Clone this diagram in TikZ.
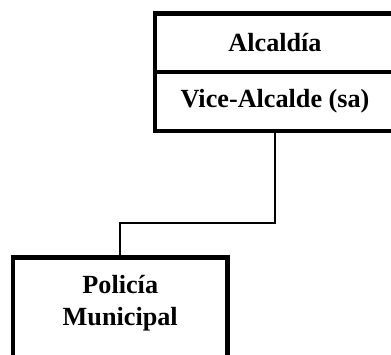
\documentclass[tikz,border=0pt]{standalone}
\usepackage{fontspec}
\setmainfont{Liberation Serif}
\usepackage{tikz}
\usetikzlibrary{calc}

\begin{document}
\begin{tikzpicture}[x=1pt, y=-1pt,
    font=\fontsize{26.2}{32}\selectfont\bfseries,
    orgbox/.style={draw, line width=4.5pt, inner sep=0pt, outer sep=0pt,
      anchor=north west, minimum width=240pt},
    link/.style={line width=1.8pt}]
  \useasboundingbox (0,0) rectangle (391,355);
  \clip (0,0) rectangle (391,355);
  % top box, two rows
  \node[orgbox, minimum height=58.5pt] (alcaldia) at (155,13.5) {Alcaldía};
  \node[orgbox, minimum height=59pt] (vice) at (alcaldia.south west) {Vice-Alcalde (sa)};
  % lower box, runs off the page
  \node[orgbox, minimum width=214.5pt, minimum height=110pt,
    label={[name=policiatext, anchor=north, inner sep=0pt, yshift=-17.5pt, align=center]north:{Policía\\Municipal}}]
    (policia) at (13,257.5) {};
  \coordinate (knee) at (120.25,223);
  \draw[link] (vice.south) |- (knee) -- (policia.north);
\end{tikzpicture}
\end{document}
